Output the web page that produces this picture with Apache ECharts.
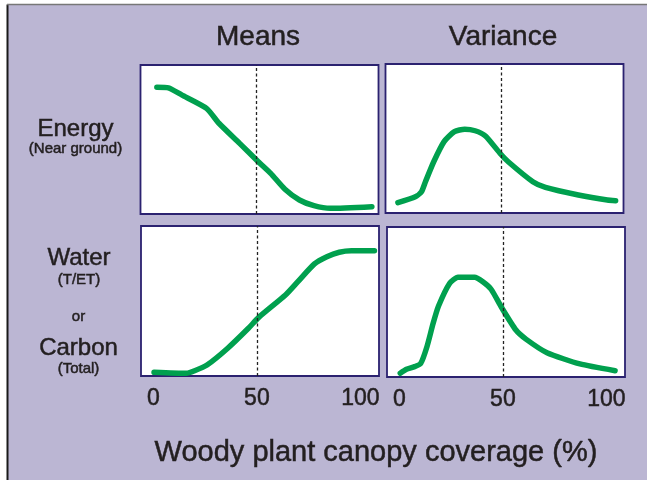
<!DOCTYPE html>
<html>
<head>
<meta charset="utf-8">
<script src="https://cdn.jsdelivr.net/npm/echarts@6/dist/echarts.min.js"></script>
<style>html,body{margin:0;padding:0;background:#fff}#c{width:647px;height:480px}</style>
</head>
<body>
<div id="c"></div>
<script>
// ---- data (x = woody plant canopy coverage %, y = relative level 0..100 within panel)
const xTicks = [0, 50, 100];
const energyMeans = [[1.9,85],[7.5,84.6],[13.9,79.9],[25.9,70.9],[31.9,60.9],[41.9,47.4],[50.9,35.1],[56.9,27.3],[63.8,16.6],[70.8,9.4],[77.8,5.6],[85.8,3.8],[105.8,4.9]];
const energyVar = [[0,6.9],[8.4,10.9],[11.4,14.3],[13.3,21.0],[17.3,34.4],[22.3,47.9],[27.3,54.6],[32.3,56.2],[37.3,55.2],[42.3,51.7],[49.3,40.1],[53.3,34.4],[65.2,21.0],[71.3,17.2],[87.2,12.1],[101.2,8.7],[105.2,8.3]];
const waterMeans = [[0.3,2.5],[15.9,1.8],[19.9,3.5],[25.9,7.3],[35.9,18.5],[45.9,31.8],[50.9,39.1],[63.8,54],[69.8,62.9],[77.8,74.7],[83.8,79.5],[89.8,82.5],[95.7,83.5],[106.8,83.5]];
const waterVar = [[0.4,2.5],[3.4,5.1],[7.3,6.9],[10.3,9.1],[13.3,20.2],[16.3,35.8],[18.9,47.3],[24.3,62.5],[28.3,66.5],[36.3,66.5],[40.3,63.5],[44.3,58.5],[49.3,46.5],[56.3,31.3],[61.3,25.1],[71.3,16.2],[87.2,8.7],[104.2,4.2]];
const thresholdX = 50;
const colTitles = ['Means', 'Variance'];
const xTitle = 'Woody plant canopy coverage (%)';

const FONT = 'Liberation Sans, Arial, sans-serif';
const TXT = '#231f20';
const GREEN = '#00a04e';
const BORDER = '#2b2270';

const grids = [
  {left:140.5, top:65, width:238, height:149},
  {left:385.5, top:64, width:238, height:149},
  {left:141, top:226, width:238, height:150},
  {left:387, top:227, width:238, height:150}
];
const seriesData = [energyMeans, energyVar, waterMeans, waterVar];

function txt(x, y, s, size) {
  return {type:'text', style:{x:x, y:y, text:s, font:size+'px '+FONT, fill:TXT, align:'center', verticalAlign:'middle',
    stroke:TXT, lineWidth:0.5}};
}

const chart = echarts.init(document.getElementById('c'), null, {renderer:'canvas'});
const option = {
  backgroundColor: '#ffffff',
  animation: false,
  grid: grids.map(g => Object.assign({show:true, backgroundColor:'#ffffff', borderColor:BORDER, borderWidth:1.8, containLabel:false}, g)),
  xAxis: grids.map((g,i) => ({
    type:'value', gridIndex:i, min:-6, max:109,
    axisLine:{show:false}, axisTick:{show:false}, splitLine:{show:false},
    axisLabel:{
      show: i>=2, margin:11, fontSize:23, color:TXT, fontFamily:FONT,
      textBorderColor:TXT, textBorderWidth:0.5,
      customValues: xTicks,
      formatter: v => String(v)
    }
  })),
  yAxis: grids.map((g,i) => ({
    type:'value', gridIndex:i, min:0, max:100, show:false
  })),
  series: seriesData.map((d,i) => ({
    type:'line', xAxisIndex:i, yAxisIndex:i, data:d, showSymbol:false, smooth:0.2,
    lineStyle:{color:GREEN, width:5.5, cap:'round', join:'round'},
    markLine:{silent:true, symbol:'none', label:{show:false},
      lineStyle:{color:'#222', width:1.3, type:[3,2.5]},
      data:[{xAxis:thresholdX}]}
  })),
  graphic: [
    {type:'rect', z:-10, shape:{x:7, y:5, width:640, height:475}, style:{fill:'#bbb6d3'}},
    {type:'line', z:-9, shape:{x1:7.5, y1:4.5, x2:7.5, y2:480}, style:{stroke:'#1a1a1a', lineWidth:2}},
    {type:'line', z:-9, shape:{x1:7, y1:4.5, x2:647, y2:4.5}, style:{stroke:'#777', lineWidth:1.5}},
    txt(258, 37, colTitles[0], 28),
    txt(503, 37, colTitles[1], 28),
    txt(75.5, 129, 'Energy', 24),
    txt(75.5, 149, '(Near ground)', 15),
    txt(79, 258, 'Water', 24),
    txt(79, 280, '(T/ET)', 15),
    txt(78.5, 317, 'or', 15),
    txt(78.5, 348, 'Carbon', 24),
    txt(78.5, 369, '(Total)', 15),
    txt(376, 453, xTitle, 29)
  ]
};
chart.setOption(option);
</script>
</body>
</html>
